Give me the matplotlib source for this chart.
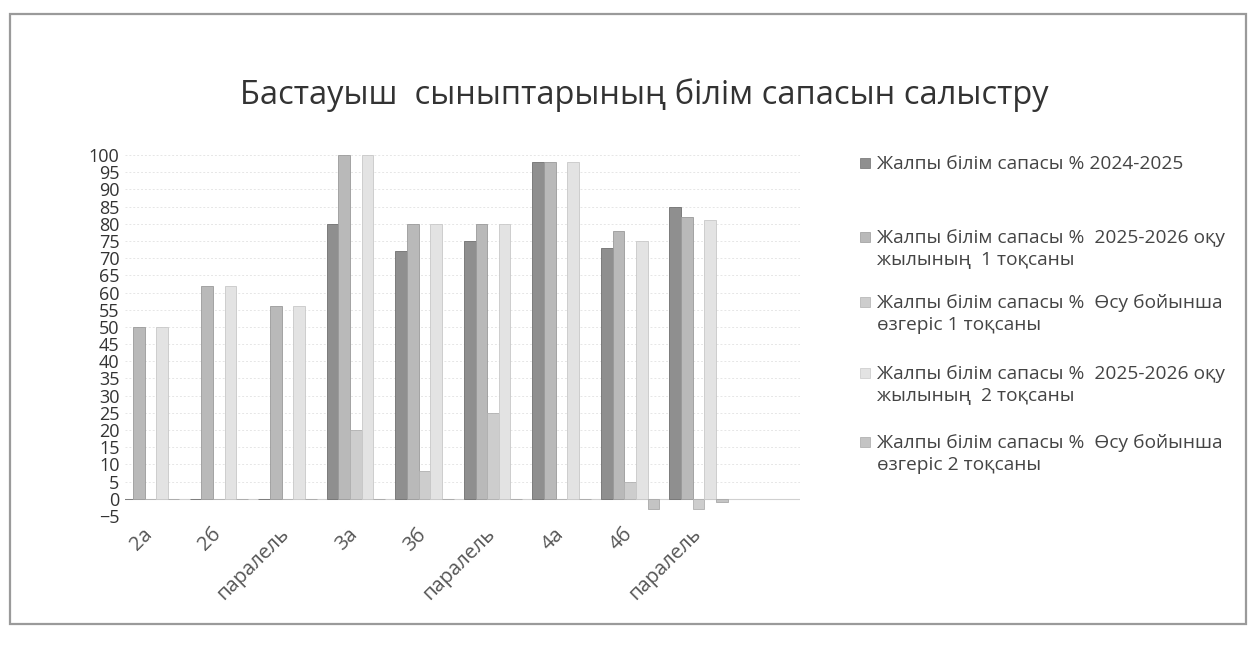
"""
Бастауыш сыныптарының білім сапасын салыстру
Grouped bar chart (grey tones, like the printed Excel chart).
"""

import matplotlib
matplotlib.use("Agg")
import matplotlib.pyplot as plt
import matplotlib.transforms as mtransforms
from matplotlib.patches import Rectangle
import numpy as np

# ── Data ──────────────────────────────────────────────────────────
CATEGORIES = ["2а", "2б", "паралель", "3а", "3б", "паралель", "4а", "4б", "паралель"]

QUALITY_2024  = [0, 0, 0, 80, 72, 75, 98, 73, 85]
QUALITY_Q1    = [50, 62, 56, 100, 80, 80, 98, 78, 82]
GROWTH_Q1     = [0, 0, 0, 20, 8, 25, 0, 5, -3]
QUALITY_Q2    = [50, 62, 56, 100, 80, 80, 98, 75, 81]
GROWTH_Q2     = [0, 0, 0, 0, 0, 0, 0, -3, -1]

SERIES_LABELS = [
    "Жалпы білім сапасы % 2024-2025",
    "Жалпы білім сапасы %  2025-2026 оқу\nжылының  1 тоқсаны",
    "Жалпы білім сапасы %  Өсу бойынша\nөзгеріс 1 тоқсаны",
    "Жалпы білім сапасы %  2025-2026 оқу\nжылының  2 тоқсаны",
    "Жалпы білім сапасы %  Өсу бойынша\nөзгеріс 2 тоқсаны",
]

TITLE = "Бастауыш  сыныптарының білім сапасын салыстру"

# ── Style ─────────────────────────────────────────────────────────
COLORS    = ["#8f8f8f", "#b9b9b9", "#cdcdcd", "#e3e3e3", "#c4c4c4"]
EDGES     = ["#6f6f6f", "#9a9a9a", "#b0b0b0", "#c8c8c8", "#a8a8a8"]
BAR_W     = 0.17
W, H      = 1254, 652
LEGEND_Y  = [163, 237, 302, 373, 442]   # first-line centres, pixels from top

plt.rcParams["font.family"] = ["Open Sans", "DejaVu Sans"]

fig = plt.figure(figsize=(W / 100, H / 100), dpi=100, facecolor="white")

# plot area in pixel terms: y=100 at 155px, y=-5 at 516px
ax = fig.add_axes([125 / W, (H - 516) / H, (800 - 125) / W, (516 - 155) / H])
ax.set_facecolor("white")

series = [QUALITY_2024, QUALITY_Q1, GROWTH_Q1, QUALITY_Q2, GROWTH_Q2]
x = np.arange(len(CATEGORIES))
offsets = (np.arange(len(series)) - 2) * BAR_W

for vals, off, col, edge in zip(series, offsets, COLORS, EDGES):
    ax.bar(x + off, vals, width=BAR_W, color=col, edgecolor=edge,
           linewidth=0.6, zorder=3)

# ── Axes ──────────────────────────────────────────────────────────
ax.set_ylim(-5, 100)
ax.set_yticks(np.arange(-5, 101, 5))
ax.set_xlim(-0.37, 9.48)
ax.set_xticks(x)
ax.set_xticklabels(CATEGORIES, rotation=45, ha="right", rotation_mode="anchor",
                   fontsize=14.5, color="#555555")
ax.tick_params(axis="y", labelsize=13, labelcolor="#333333", length=0, pad=4)
ax.tick_params(axis="x", length=0, pad=6)

shift = mtransforms.ScaledTranslation(-8 / 100, 0, fig.dpi_scale_trans)
for lbl in ax.get_xticklabels():
    lbl.set_transform(lbl.get_transform() + shift)

ax.grid(axis="y", color="#e6e6e6", linewidth=0.7, linestyle=(0, (2, 2)), zorder=0)
ax.axhline(0, color="#d0d0d0", linewidth=0.8, zorder=2)
for s in ax.spines.values():
    s.set_visible(False)

# ── Title & legend ────────────────────────────────────────────────
fig.text(644 / W, 1 - 95 / H, TITLE, ha="center", va="center",
         fontsize=23.5, color="#333333")

# legend drawn by hand so the uneven spacing of the original can be kept
for label, col, edge, ly in zip(SERIES_LABELS, COLORS, EDGES, LEGEND_Y):
    fig.patches.append(Rectangle((860 / W, 1 - (ly + 5) / H), 10 / W, 10 / H,
                                 transform=fig.transFigure, facecolor=col,
                                 edgecolor=edge, linewidth=0.5))
    fig.text(877 / W, 1 - (ly - 8) / H, label, ha="left", va="top",
             fontsize=13.8, color="#444444", linespacing=1.3)

# scanned page frame
fig.patches.append(Rectangle((10 / W, 28 / H), 1236 / W, 610 / H,
                             transform=fig.transFigure, fill=False,
                             edgecolor="#9a9a9a", linewidth=1.6))

fig.savefig("out.png", dpi=100, facecolor="white")
